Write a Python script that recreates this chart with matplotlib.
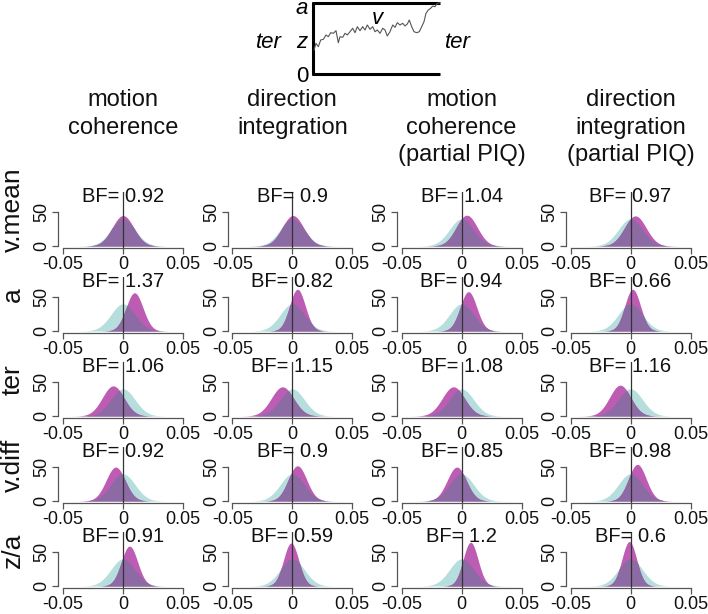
import numpy as np
import matplotlib
matplotlib.use("Agg")
import matplotlib.pyplot as plt

plt.rcParams['font.family'] = ['Liberation Sans', 'DejaVu Sans']

# ---------------- data ----------------
col_titles = [["motion", "coherence"], ["direction", "integration"],
              ["motion", "coherence", "(partial PIQ)"],
              ["direction", "integration", "(partial PIQ)"]]
row_labels = ["v.mean", "a", "ter", "v.diff", "z/a"]
bf_values = [
    ["0.92", "0.9", "1.04", "0.97"],
    ["1.37", "0.82", "0.94", "0.66"],
    ["1.06", "1.15", "1.08", "1.16"],
    ["0.92", "0.9", "0.85", "0.98"],
    ["0.91", "0.59", "1.2", "0.6"],
]
prior_mean = 0.0
prior_sd = 0.0100
post_mean = [
    [0.0000, 0.0005, 0.0043, 0.0040],
    [0.0096, 0.0043, 0.0057, 0.0018],
    [-0.0082, -0.0082, -0.0068, -0.0086],
    [-0.0061, 0.0043, -0.0040, 0.0057],
    [0.0054, -0.0010, 0.0075, -0.0010],
]
post_sd = [
    [0.0089, 0.0089, 0.0088, 0.0090],
    [0.0071, 0.0065, 0.0069, 0.0065],
    [0.0090, 0.0093, 0.0093, 0.0088],
    [0.0080, 0.0077, 0.0080, 0.0074],
    [0.0068, 0.0063, 0.0062, 0.0061],
]
x_ticks = [-0.05, 0, 0.05]
x_tick_labels = ["-0.05", "0", "0.05"]
y_ticks = [0, 50]

# random-walk trace of the diffusion diagram (pixel coordinates of the header)
walk_x = [314, 316, 318.3, 320.7, 323.3, 326, 328.3, 330.7, 333.3, 336, 338.3, 340, 342.7,
          345, 347.3, 350, 352.7, 355, 357.3, 360, 362.7, 365, 367.3, 370, 372.7, 375,
          377.3, 380, 382.7, 385, 387.3, 390, 392.7, 395, 397.3, 400, 402.7, 405, 407.3,
          409.3, 411.7, 414, 416.7, 419.3, 421.7, 424, 426, 428.3, 430.7, 432.7, 435,
          436.7, 439.3]
walk_y = [50, 43.3, 46.7, 40, 39.3, 35, 36.7, 32.7, 33.3, 30.7, 42.7, 36.7, 37.3,
          33.3, 35, 31.7, 28.3, 32.7, 26.7, 30.7, 26.7, 30, 25, 29.3, 26.7, 31.7,
          30, 33.3, 28.3, 30, 36, 31.7, 25, 27.3, 22.7, 25, 23.3, 26, 24,
          20, 26.7, 31.7, 32.7, 31.7, 26.7, 21.7, 13.3, 10, 8.3, 6, 6.7,
          4, 2.7]

# ---------------- layout ----------------
W, H = 708, 614
fig = plt.figure(figsize=(W / 100, H / 100), dpi=100)

C_PRIOR = "#b6dedc"
C_POST = "#bd5cb3"
C_OVER = "#8c6aa3"
TXT = "#111111"

col_zero_px = [123, 292.3, 461.6, 630.5]
row_zero_px = [246, 331, 416, 501, 586]
xlim = (-0.054, 0.054)
ylim = (-3, 80)
px_per_x = 1200.0
px_per_y = 0.68

def norm_pdf(x, m, s):
    return np.exp(-0.5 * ((x - m) / s) ** 2) / (s * np.sqrt(2 * np.pi))

xs = np.linspace(-0.054, 0.054, 600)
prior = norm_pdf(xs, prior_mean, prior_sd)

for r in range(5):
    for c in range(4):
        x0 = col_zero_px[c]
        y0 = row_zero_px[r]
        left = x0 + xlim[0] * px_per_x
        width = (xlim[1] - xlim[0]) * px_per_x
        bottom = y0 - ylim[0] * px_per_y
        height = (ylim[1] - ylim[0]) * px_per_y
        ax = fig.add_axes([left / W, 1 - bottom / H, width / W, height / H])
        ax.set_xlim(*xlim)
        ax.set_ylim(*ylim)
        ax.patch.set_alpha(0)
        post = norm_pdf(xs, post_mean[r][c], post_sd[r][c])
        over = np.minimum(prior, post)
        ax.fill_between(xs, 0, prior, color=C_PRIOR, lw=0)
        ax.fill_between(xs, 0, post, color=C_POST, lw=0)
        ax.fill_between(xs, 0, over, color=C_OVER, lw=0)
        ax.axvline(0, color="#333333", lw=0.9)
        for s in ("top", "right"):
            ax.spines[s].set_visible(False)
        ax.spines["left"].set_bounds(0, 50)
        ax.spines["bottom"].set_bounds(-0.05, 0.05)
        for s in ("left", "bottom"):
            ax.spines[s].set_color("#555555")
            ax.spines[s].set_linewidth(0.9)
        ax.set_xticks(x_ticks)
        ax.set_xticklabels(x_tick_labels)
        ax.set_yticks(y_ticks)
        ax.set_yticklabels([str(v) for v in y_ticks], rotation=90, va="center")
        ax.tick_params(axis="both", length=4, width=0.9, color="#555555",
                       labelsize=13, pad=1.5, labelcolor=TXT)
        ax.text(0, 73.5, "BF= " + bf_values[r][c], ha="center", va="center",
                fontsize=14.5, color=TXT)

title_line_y = [100, 128, 155]
for c in range(4):
    for i, line in enumerate(col_titles[c]):
        fig.text(col_zero_px[c] / W, 1 - title_line_y[i] / H, line, ha="center",
                 va="center", fontsize=17, color=TXT)

for r in range(5):
    fig.text(13 / W, 1 - (row_zero_px[r] - 36) / H, row_labels[r], ha="center",
             va="center", rotation=90, fontsize=19, color=TXT)

# ---------------- diffusion diagram header ----------------
hax = fig.add_axes([0, 1 - 85 / H, 1, 85 / H])
hax.set_xlim(0, W)
hax.set_ylim(85, 0)
hax.axis("off")
hax.patch.set_alpha(0)
hax.plot([313, 313], [2, 74.5], color="black", lw=2.2, solid_capstyle="butt")
hax.plot([312, 440], [3, 3], color="black", lw=2.2, solid_capstyle="butt")
hax.plot([312, 440], [73.5, 73.5], color="black", lw=2.2, solid_capstyle="butt")
hax.plot(walk_x, walk_y, color="#555555", lw=0.8)
hax.text(302, 9, "a", ha="center", va="center", fontsize=16, style="italic")
hax.text(302, 42, "z", ha="center", va="center", fontsize=16, style="italic")
hax.text(302, 76, "0", ha="center", va="center", fontsize=16)
hax.text(269, 42, "ter", ha="center", va="center", fontsize=16, style="italic")
hax.text(458, 42, "ter", ha="center", va="center", fontsize=16, style="italic")
hax.text(377, 18, "v", ha="center", va="center", fontsize=16, style="italic")

fig.savefig("out.png", dpi=100)
